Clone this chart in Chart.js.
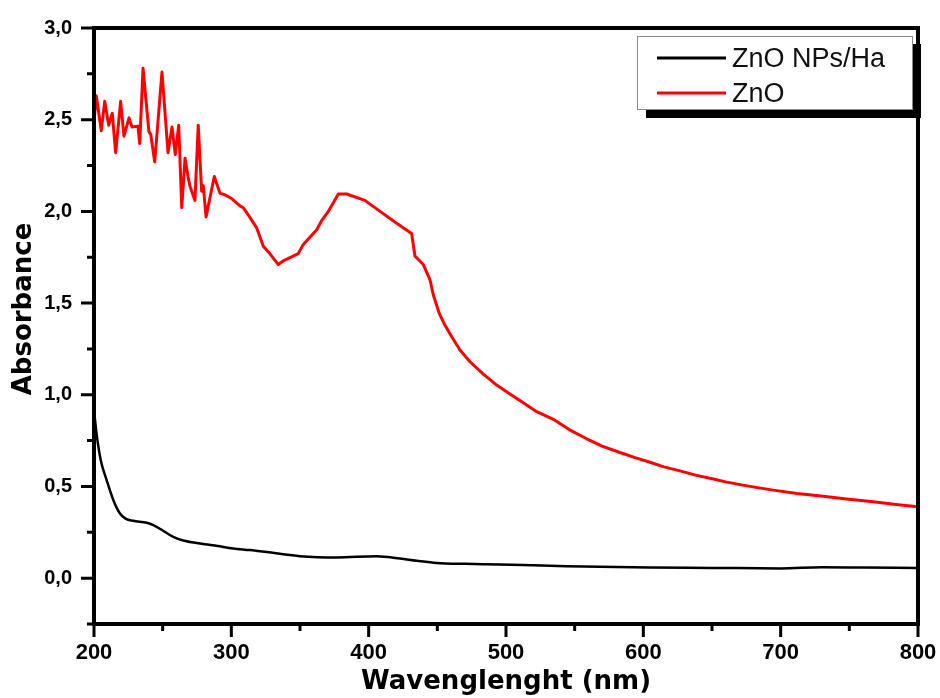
<!DOCTYPE html>
<html>
<head>
<meta charset="utf-8">
<script src="https://cdn.jsdelivr.net/npm/chart.js@4.4.1/dist/chart.umd.min.js"></script>
<style>
  html, body { margin: 0; padding: 0; background: #fff; }
</style>
</head>
<body>
<canvas id="graph" width="940" height="698"></canvas>
<script>
// ZnO (red)
var wlZnO = [200, 201.7, 205.3, 207.8, 210.7, 213.3, 215.8, 219.4, 221.8, 225.5,
  227.7, 232, 233.3, 235.7, 240, 241.3, 244.2, 249.5, 253.9, 256.8,
  259.2, 261.7, 263.9, 266.3, 268.7, 270, 273.5, 275.9, 278.4, 279.6,
  281.6, 287.6, 291.7, 295.4, 300.3, 306.3, 308.7, 312.4, 318.5, 323.3,
  328, 334.2, 337.8, 348.8, 352.4, 362.2, 365.8, 370.6, 377.9, 384,
  397.3, 408.3, 420.4, 431.3, 433.7, 439.8, 444.7, 447.1, 451.4, 455.5,
  460.5, 466.5, 473.8, 483.5, 493.2, 502.9, 512.6, 522.4, 534.5, 546,
  558.8, 570, 583, 594, 604.9, 615, 626.7, 638, 651, 660,
  670.4, 682, 694.6, 712, 731, 748, 767.5, 784, 800];
var absZnO = [2.49, 2.63, 2.44, 2.60, 2.47, 2.535, 2.32, 2.60, 2.41, 2.51,
  2.46, 2.465, 2.37, 2.78, 2.435, 2.42, 2.27, 2.76, 2.32, 2.46,
  2.31, 2.47, 2.02, 2.29, 2.18, 2.135, 2.06, 2.47, 2.11, 2.14,
  1.97, 2.19, 2.10, 2.09, 2.07, 2.03, 2.02, 1.98, 1.91, 1.81,
  1.77, 1.71, 1.73, 1.77, 1.82, 1.90, 1.95, 2.00, 2.095, 2.095,
  2.06, 2.00, 1.935, 1.88, 1.757, 1.71, 1.626, 1.544, 1.444, 1.38,
  1.316, 1.244, 1.18, 1.113, 1.053, 1.004, 0.956, 0.908, 0.866, 0.81,
  0.76, 0.72, 0.685, 0.657, 0.632, 0.607, 0.585, 0.562, 0.541, 0.525,
  0.51, 0.495, 0.48, 0.462, 0.446, 0.432, 0.416, 0.402, 0.389];

// ZnO NPs/Ha (black)
var wlHa = [200, 202, 205, 209.2, 214.1, 218.9, 223, 228.6, 238.4, 243.2,
  250, 257.7, 265, 277.2, 290, 301.4, 313.6, 330, 350, 376.7,
  405.9, 422.8, 435, 449.5, 470, 495.6, 544.2, 604.9, 650, 700,
  730, 760, 800];
var absHa = [0.915, 0.78, 0.64, 0.535, 0.425, 0.353, 0.325, 0.313, 0.302, 0.289,
  0.26, 0.225, 0.205, 0.189, 0.175, 0.162, 0.153, 0.138, 0.12, 0.113,
  0.12, 0.107, 0.095, 0.083, 0.078, 0.075, 0.065, 0.058, 0.056, 0.053,
  0.06, 0.058, 0.055];

var seriesNames = ["ZnO NPs/Ha", "ZnO"];
var xTitle = "Wavenglenght (nm)";
var yTitle = "Absorbance";
var xMin = 200, xMax = 800, xStep = 50, xLabelEvery = 100;
var yMin = -0.25, yMax = 3.0, yStep = 0.25, yLabelEvery = 0.5;

function toPoints(xs, ys) {
  return xs.map(function (x, i) { return { x: x, y: ys[i] }; });
}

function isMultiple(v, step) {
  return Math.abs(v / step - Math.round(v / step)) < 1e-6;
}

function noScalePadding(scale) {
  scale.paddingLeft = 0;
  scale.paddingRight = 0;
  scale.paddingTop = 0;
  scale.paddingBottom = 0;
}

// frame, ticks, y title and boxed legend
var framePlugin = {
  id: "frame",
  afterDraw: function (chart) {
    var ctx = chart.ctx;
    var a = chart.chartArea;
    var xs = chart.scales.x;
    var ys = chart.scales.y;

    ctx.save();
    ctx.strokeStyle = "#000";
    ctx.lineWidth = 4;
    ctx.strokeRect(a.left, a.top, a.right - a.left, a.bottom - a.top);

    ctx.lineWidth = 3;
    ctx.beginPath();
    xs.ticks.forEach(function (t) {
      var px = xs.getPixelForValue(t.value);
      var len = isMultiple(t.value, xLabelEvery) ? 13 : 7;
      ctx.moveTo(px, a.bottom);
      ctx.lineTo(px, a.bottom + len);
    });
    ys.ticks.forEach(function (t) {
      var py = ys.getPixelForValue(t.value);
      var len = isMultiple(t.value, yLabelEvery) ? 13 : 7;
      ctx.moveTo(a.left, py);
      ctx.lineTo(a.left - len, py);
    });
    ctx.stroke();

    ctx.translate(24, 309);
    ctx.rotate(-Math.PI / 2);
    ctx.fillStyle = "#000";
    ctx.font = "bold 26px 'DejaVu Sans'";
    ctx.textAlign = "center";
    ctx.textBaseline = "middle";
    ctx.fillText(yTitle, 0, 0);
    ctx.restore();

    // legend box with drop shadow
    var bx = 637, by = 36, bw = 275, bh = 73;
    ctx.save();
    ctx.fillStyle = "#000";
    ctx.fillRect(bx + 9, by + 8, bw, bh + 1);
    ctx.fillStyle = "#fff";
    ctx.fillRect(bx, by, bw, bh);
    ctx.strokeStyle = "#8a8a8a";
    ctx.lineWidth = 1;
    ctx.strokeRect(bx + 0.5, by + 0.5, bw, bh);

    ctx.font = "27px 'Liberation Sans'";
    ctx.textAlign = "left";
    ctx.textBaseline = "middle";
    var rows = [58, 93];
    chart.data.datasets.forEach(function (ds, i) {
      ctx.strokeStyle = ds.borderColor;
      ctx.lineWidth = 3;
      ctx.beginPath();
      ctx.moveTo(657, rows[i]);
      ctx.lineTo(726, rows[i]);
      ctx.stroke();
      ctx.fillStyle = "#111";
      ctx.fillText(ds.label, 732, rows[i] + 2);
    });
    ctx.restore();
  }
};

var ctx = document.getElementById("graph").getContext("2d");

var data = {
  datasets: [
    {
      label: seriesNames[0],
      data: toPoints(wlHa, absHa),
      borderColor: "#000000",
      borderWidth: 2.5,
      pointRadius: 0,
      cubicInterpolationMode: "monotone"
    },
    {
      label: seriesNames[1],
      data: toPoints(wlZnO, absZnO),
      borderColor: "#ff0000",
      borderWidth: 3,
      borderJoinStyle: "round",
      pointRadius: 0,
      tension: 0
    }
  ]
};

var options = {
  responsive: false,
  animation: false,
  devicePixelRatio: 1,
  layout: { padding: { top: 28, right: 22, left: 0, bottom: 0 } },
  plugins: {
    legend: { display: false },
    tooltip: { enabled: false }
  },
  scales: {
    x: {
      type: "linear",
      min: xMin,
      max: xMax,
      grid: { display: false, drawTicks: false },
      border: { display: false },
      ticks: {
        stepSize: xStep,
        autoSkip: false,
        maxRotation: 0,
        padding: 16,
        color: "#000",
        font: { family: "'Liberation Sans'", size: 22, weight: "bold" },
        callback: function (v) { return isMultiple(v, xLabelEvery) ? String(v) : ""; }
      },
      title: {
        display: true,
        text: xTitle,
        color: "#000",
        padding: { top: 0, bottom: 0 },
        font: { family: "'DejaVu Sans'", size: 26, weight: "bold" }
      },
      afterFit: function (scale) {
        scale.height = 74;
        noScalePadding(scale);
      }
    },
    y: {
      min: yMin,
      max: yMax,
      grid: { display: false, drawTicks: false },
      border: { display: false },
      ticks: {
        stepSize: yStep,
        autoSkip: false,
        padding: 22,
        color: "#000",
        font: { family: "'Liberation Sans'", size: 20, weight: "bold" },
        callback: function (v) {
          return isMultiple(v, yLabelEvery) ? v.toFixed(1).replace(".", ",") : "";
        }
      },
      afterFit: function (scale) {
        scale.width = 94;
        noScalePadding(scale);
      }
    }
  }
};

var config = {
  type: "line",
  data: data,
  options: options,
  plugins: [framePlugin]
};

var graph = new Chart(ctx, config);
</script>
</body>
</html>
